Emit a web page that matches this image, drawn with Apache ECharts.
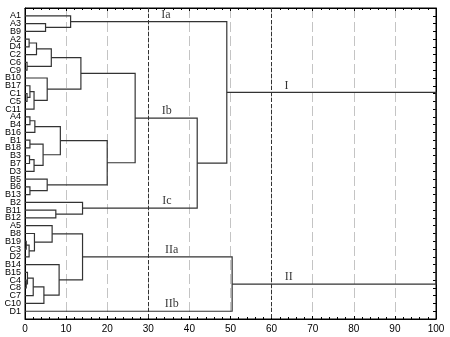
<!DOCTYPE html>
<html>
<head>
<meta charset="utf-8">
<script src="https://cdn.jsdelivr.net/npm/echarts@6/dist/echarts.min.js"></script>
<style>
html, body { margin: 0; padding: 0; background: #fff; }
#main { width: 450px; height: 337px; }
</style>
</head>
<body>
<div id="main"></div>
<script>
// leaves, top to bottom
const leaves = ['A1', 'A3', 'B9', 'A2', 'D4', 'C2', 'C6', 'C9', 'B10', 'B17', 'C1', 'C5', 'C11',
  'A4', 'B4', 'B16', 'B1', 'B18', 'B3', 'B7', 'D3', 'B5', 'B6', 'B13', 'B2', 'B11', 'B12',
  'A5', 'B8', 'B19', 'C3', 'D2', 'B14', 'B15', 'C4', 'C8', 'C7', 'C10', 'D1'];

// merges: [child a, child b, linkage distance]; node ids >= 39 are earlier merges
const merges = [
  [1, 2, 5.0], [0, 39, 11.1],
  [3, 4, 1.0], [41, 5, 2.8], [6, 7, 0.5], [42, 43, 6.4],
  [10, 11, 0.5], [9, 45, 1.2], [46, 12, 2.2], [8, 47, 5.4], [44, 48, 13.6],
  [13, 14, 1.2], [50, 15, 2.4], [16, 17, 1.2], [18, 19, 1.1], [53, 20, 2.2],
  [52, 54, 4.4], [51, 55, 8.6], [22, 23, 1.2], [21, 57, 5.4], [56, 58, 20.0],
  [49, 59, 26.8],
  [25, 26, 7.5], [24, 61, 14.0],
  [60, 62, 41.9], [40, 63, 49.1],
  [29, 30, 0.3], [65, 31, 1.0], [28, 66, 2.3], [27, 67, 6.6],
  [34, 35, 0.3], [33, 69, 0.6], [70, 36, 2.0], [71, 37, 4.6], [32, 72, 8.3],
  [68, 73, 14.0], [74, 38, 50.4],
  [64, 75, 100]
];

const clusterNames = ['Ia', 'Ib', 'Ic', 'IIa', 'IIb', 'I', 'II'];
const clusterNodes = [40, 60, 62, 74, 38, 64, 75];
const clusterAt = [34.3, 34.5, 34.5, 35.7, 35.7, 63.6, 64.2];
const refLines = [30, 60];

// node positions
let nodeY = leaves.map((n, i) => i);
let nodeH = leaves.map(() => 0);
let segs = [];
merges.forEach((m) => {
  let a = m[0], b = m[1], h = m[2];
  segs.push({
    coords: [[nodeH[a], nodeY[a]], [h, nodeY[a]], [h, nodeY[b]], [nodeH[b], nodeY[b]]]
  });
  nodeY.push((nodeY[a] + nodeY[b]) / 2);
  nodeH.push(h);
});

let labelData = clusterNames.map((n, i) => ({ name: n, value: [clusterAt[i], nodeY[clusterNodes[i]]] }));

let chart = echarts.init(document.getElementById('main'));
let option = {
  animation: false,
  grid: {
    left: 25, right: 14, top: 8, bottom: 18,
    show: true, borderColor: '#000', borderWidth: 1
  },
  xAxis: [{
    type: 'value',
    min: 0, max: 100, interval: 10,
    position: 'bottom',
    axisLine: { show: true, onZero: false, lineStyle: { color: '#000' } },
    axisTick: { show: true, inside: true, length: 3, lineStyle: { color: '#000' } },
    minorTick: { show: true, splitNumber: 5, length: 2, lineStyle: { color: '#000' } },
    axisLabel: { color: '#000', fontSize: 10, fontFamily: 'Liberation Sans', margin: 5 },
    splitLine: { show: true, lineStyle: { color: '#c4c4c4', type: [10, 4], width: 1 } }
  }, {
    type: 'value',
    min: 0, max: 100, interval: 10,
    position: 'top',
    axisLine: { show: true, onZero: false, lineStyle: { color: '#000' } },
    axisTick: { show: true, inside: true, length: 3, lineStyle: { color: '#000' } },
    minorTick: { show: true, splitNumber: 5, length: 2, lineStyle: { color: '#000' } },
    axisLabel: { show: false },
    splitLine: { show: false }
  }],
  yAxis: [{
    type: 'value',
    inverse: true,
    min: -1, max: 39, interval: 1,
    position: 'left',
    axisLine: { show: true, onZero: false, lineStyle: { color: '#000' } },
    axisTick: { show: false },
    axisLabel: {
      color: '#000', fontSize: 9, fontFamily: 'Liberation Sans', margin: 4,
      formatter: function(v) { return leaves[v] || ''; }
    },
    splitLine: { show: false }
  }, {
    type: 'value',
    inverse: true,
    min: -1, max: 39, interval: 1,
    position: 'right',
    axisLine: { show: true, onZero: false, lineStyle: { color: '#000' } },
    axisTick: { show: true, inside: true, length: 3, lineStyle: { color: '#000' } },
    axisLabel: { show: false },
    splitLine: { show: false }
  }],
  series: [{
    type: 'lines',
    coordinateSystem: 'cartesian2d',
    polyline: true,
    silent: true,
    lineStyle: { color: '#333', width: 1.2, opacity: 1 },
    data: segs,
    markLine: {
      silent: true,
      symbol: 'none',
      label: { show: false },
      lineStyle: { color: '#333', type: [4, 2], width: 1 },
      data: refLines.map(v => ({ xAxis: v }))
    }
  }, {
    type: 'scatter',
    symbolSize: 0,
    silent: true,
    data: labelData,
    label: {
      show: true,
      position: 'top',
      distance: 1,
      formatter: '{b}',
      color: '#000',
      fontSize: 12,
      fontFamily: 'Liberation Serif'
    }
  }]
};
chart.setOption(option);
</script>
</body>
</html>
